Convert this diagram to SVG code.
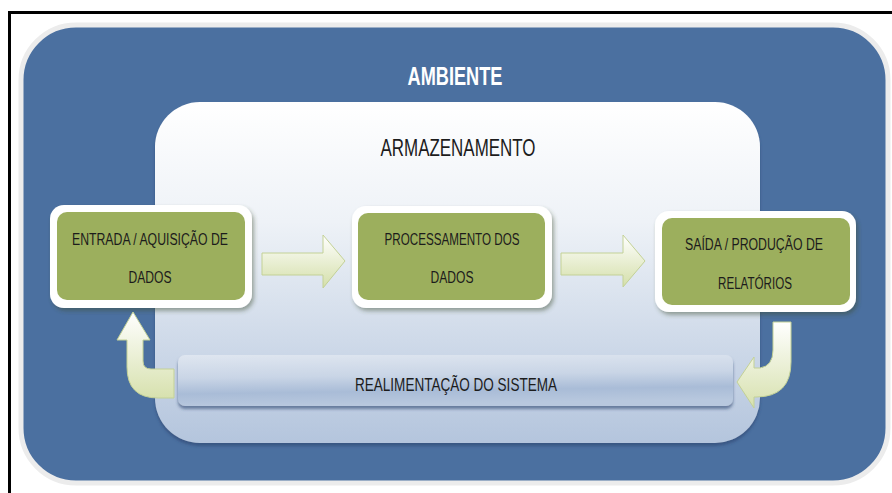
<svg xmlns="http://www.w3.org/2000/svg" width="892" height="493" viewBox="0 0 892 493">
<defs>
<style>
.t{font-family:"Liberation Sans Narrow","Liberation Sans",Arial,sans-serif;fill:#1c1c1c;text-anchor:middle}
.g{fill:#9caf5d}
.gb{fill:#ffffff}
.arr{fill:url(#arrG);stroke:#c3d196;stroke-width:1}
</style>
<linearGradient id="inG" x1="0" y1="0" x2="0" y2="1">
<stop offset="0" stop-color="#ffffff"/>
<stop offset="0.35" stop-color="#eef2f7"/>
<stop offset="1" stop-color="#b4c5dd"/>
</linearGradient>
<linearGradient id="barG" x1="0" y1="0" x2="0.15" y2="1">
<stop offset="0" stop-color="#dfe6f0"/>
<stop offset="0.45" stop-color="#c9d5e6"/>
<stop offset="0.75" stop-color="#a9bcd7"/>
<stop offset="1" stop-color="#b8c8de"/>
</linearGradient>
<linearGradient id="arrG" x1="0" y1="0" x2="0" y2="1">
<stop offset="0" stop-color="#ffffff"/>
<stop offset="1" stop-color="#d4dfa9"/>
</linearGradient>
<linearGradient id="arrV" x1="0" y1="0" x2="0" y2="1">
<stop offset="0" stop-color="#ffffff"/>
<stop offset="1" stop-color="#d7e1ae"/>
</linearGradient>
<filter id="sh" x="-10%" y="-10%" width="125%" height="130%">
<feDropShadow dx="2" dy="3" stdDeviation="2" flood-color="#3a4a2a" flood-opacity="0.45"/>
</filter>
<filter id="sh2" x="-5%" y="-5%" width="110%" height="115%">
<feDropShadow dx="0" dy="3" stdDeviation="1.5" flood-color="#2c4470" flood-opacity="0.6"/>
</filter>
</defs>
<rect x="0" y="0" width="892" height="493" fill="#ffffff"/>
<path d="M9.5 493 L9.5 12.5 L892 12.5" fill="none" stroke="#000000" stroke-width="3"/>
<g id="ambiente">
<rect x="21" y="25" width="867" height="458" rx="55" fill="#4b70a0" stroke="#ececec" stroke-width="5"/>
<text x="455" y="85" font-family="'Liberation Sans Narrow','Liberation Sans',Arial,sans-serif" font-weight="bold" font-size="26" fill="#ffffff" text-anchor="middle" textLength="95" lengthAdjust="spacingAndGlyphs">AMBIENTE</text>
</g>
<g id="armazenamento">
<rect x="155" y="102" width="605" height="341" rx="45" fill="url(#inG)" filter="url(#sh2)"/>
<text class="t" x="458" y="156" font-size="24" textLength="155" lengthAdjust="spacingAndGlyphs">ARMAZENAMENTO</text>
</g>
<g id="realimentacao">
<rect x="178" y="355" width="555" height="51" rx="7" fill="url(#barG)" filter="url(#sh2)"/>
<text class="t" x="456" y="391" font-size="19" textLength="202" lengthAdjust="spacingAndGlyphs">REALIMENTAÇÃO DO SISTEMA</text>
</g>
<g id="entrada">
<rect x="50" y="205" width="202" height="103" rx="14" class="gb" filter="url(#sh)"/>
<rect x="57" y="212" width="188" height="88" rx="10" class="g"/>
<text class="t" x="150" y="245" font-size="16" textLength="156" lengthAdjust="spacingAndGlyphs">ENTRADA / AQUISIÇÃO DE</text>
<text class="t" x="150" y="283" font-size="16" textLength="43" lengthAdjust="spacingAndGlyphs">DADOS</text>
</g>
<g id="processamento">
<rect x="352" y="206" width="200" height="102" rx="14" class="gb" filter="url(#sh)"/>
<rect x="358" y="213" width="187" height="87" rx="10" class="g"/>
<text class="t" x="452" y="245" font-size="16" textLength="135" lengthAdjust="spacingAndGlyphs">PROCESSAMENTO DOS</text>
<text class="t" x="452" y="283" font-size="16" textLength="43" lengthAdjust="spacingAndGlyphs">DADOS</text>
</g>
<g id="saida">
<rect x="655" y="211" width="201" height="101" rx="14" class="gb" filter="url(#sh)"/>
<rect x="662" y="218" width="188" height="87" rx="10" class="g"/>
<text class="t" x="754" y="250" font-size="16" textLength="138" lengthAdjust="spacingAndGlyphs">SAÍDA / PRODUÇÃO DE</text>
<text class="t" x="755" y="289" font-size="16" textLength="74" lengthAdjust="spacingAndGlyphs">RELATÓRIOS</text>
</g>
<g id="connectors">
<path class="arr" d="M262 253 L323 253 L323 235 L345 261 L323 288 L323 275 L262 275 Z"/>
<path class="arr" d="M561 253 L623 253 L623 235 L645 261 L623 287 L623 275 L561 275 Z"/>
<path d="M133 312 L150 340 L143 340 L143 361 Q143 369 151 369 L174 369 L174 398 L158 398 Q127 398 127 367 L127 340 L117 340 Z" fill="url(#arrV)" stroke="#c3d196" stroke-width="1"/>
<path d="M773 322 L791 322 L791 362 Q791 397 756 397 L754 397 L754 408 L737 382 L754 357 L754 368 L760 368 Q773 366 773 350 Z" fill="url(#arrV)" stroke="#c3d196" stroke-width="1"/>
</g>
</svg>
